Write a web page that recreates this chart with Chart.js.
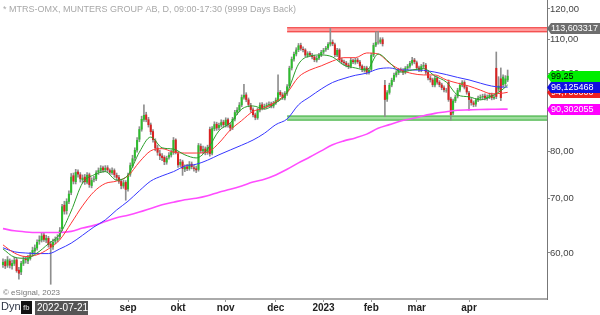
<!DOCTYPE html>
<html>
<head>
<meta charset="utf-8">
<script src="https://cdn.jsdelivr.net/npm/chart.js@4.4.0/dist/chart.umd.min.js"></script>
<style>
  html, body { margin: 0; padding: 0; background: #fff; }
  #wrap { width: 600px; height: 315px; }
</style>
</head>
<body>
<div id="wrap"><canvas id="myChart" width="600" height="315"></canvas></div>
<script>
'use strict';

// Data (trading day index, 0 = 2022-09-01)

let firstDay = -55;

let openVals = [
  58.0, 58.6, 57.9, 58.7, 57.8, 58.2, 58.9, 57.2, 56.8, 58.2,
  59.0, 58.6, 59.0, 59.8, 60.3, 60.8, 62.0, 62.2, 63.2, 62.2,
  62.6, 61.6, 61.0, 62.0, 62.2, 62.8, 64.2, 68.8, 67.6, 69.4,
  71.2, 74.8, 73.4, 75.6, 75.0, 73.8, 74.5, 73.3, 75.0, 72.6,
  73.9, 74.0, 75.5, 75.8, 76.5, 75.9, 76.5, 75.9, 75.3, 75.9,
  74.9, 74.4, 73.6, 72.5, 73.4, 71.9, 75.0, 76.8, 78.6, 80.3,
  82.8, 85.2, 87.6, 88.9, 87.7, 86.4, 84.8, 82.6, 80.9, 79.6,
  79.1, 78.8, 77.6, 78.7, 79.2, 79.8, 82.8, 79.6, 77.1, 77.8,
  76.1, 76.7, 76.2, 77.3, 76.5, 76.3, 76.0, 81.3, 80.1, 80.7,
  79.8, 85.3, 79.6, 85.3, 86.6, 85.6, 86.2, 87.1, 86.2, 87.7,
  86.4, 85.6, 87.7, 89.4, 90.0, 91.3, 93.3, 94.1, 92.8, 91.3,
  90.2, 88.9, 88.0, 90.0, 91.5, 90.7, 91.0, 91.3, 91.7, 91.0,
  91.8, 92.6, 94.8, 94.1, 93.1, 94.4, 96.4, 101.4, 104.0, 105.5,
  106.8, 108.3, 107.1, 106.9, 105.1, 105.9, 105.2, 104.8, 103.7, 104.3,
  105.2, 106.1, 106.9, 107.3, 108.5, 109.3, 108.5, 105.2, 106.9, 103.9,
  103.3, 103.0, 102.4, 101.9, 103.7, 103.1, 103.9, 103.3, 102.1, 100.8,
  101.6, 100.1, 101.0, 105.2, 108.2, 109.3, 109.1, 110.1, 96.7, 92.8,
  94.6, 96.6, 98.0, 99.4, 100.1, 101.1, 100.8, 100.1, 101.4, 101.9,
  102.8, 103.9, 103.1, 101.6, 100.8, 101.9, 102.4, 100.3, 98.7, 98.2,
  96.6, 98.7, 97.5, 96.8, 96.0, 95.2, 97.5, 93.0, 89.2, 92.4,
  93.6, 95.2, 96.6, 97.5, 96.1, 94.6, 92.8, 92.0, 91.5, 92.6,
  93.1, 93.4, 93.8, 93.1, 93.4, 94.1, 93.1, 101.5, 95.5, 98.5,
  96.7, 97.0, 98.0
];

let highVals = [
  59.0, 58.9, 59.4, 59.0, 58.8, 59.3, 59.1, 57.6, 58.6, 59.4,
  59.4, 59.6, 60.1, 61.0, 61.4, 62.3, 63.0, 63.6, 63.6, 63.1,
  62.9, 62.0, 62.4, 62.8, 63.2, 64.5, 68.9, 69.5, 70.0, 71.6,
  75.2, 75.3, 76.1, 76.0, 75.4, 74.9, 75.0, 75.4, 75.3, 74.3,
  74.6, 75.8, 76.4, 76.9, 76.8, 76.9, 76.9, 76.2, 76.4, 76.2,
  75.3, 74.8, 74.0, 73.8, 73.7, 75.3, 77.5, 79.2, 80.9, 83.3,
  85.9, 88.5, 91.4, 89.5, 88.2, 86.8, 85.2, 83.0, 81.5, 80.4,
  79.6, 79.1, 79.0, 79.8, 80.4, 83.3, 83.0, 80.0, 78.3, 78.1,
  77.1, 77.2, 77.8, 77.7, 77.0, 76.8, 81.9, 81.8, 81.3, 81.1,
  81.5, 85.8, 85.9, 87.1, 87.0, 86.8, 87.6, 87.5, 88.1, 88.0,
  86.8, 88.2, 90.0, 90.7, 92.0, 94.0, 96.9, 94.6, 93.2, 91.8,
  90.6, 89.3, 90.5, 91.9, 92.0, 91.6, 91.9, 92.2, 92.1, 92.3,
  93.2, 99.5, 95.2, 94.6, 94.9, 96.8, 102.0, 104.7, 106.2, 107.5,
  108.8, 108.9, 107.8, 107.2, 106.3, 106.3, 105.8, 105.2, 104.9, 105.8,
  106.7, 107.3, 107.9, 109.1, 113.6, 109.9, 108.9, 107.3, 107.2, 104.4,
  103.8, 103.4, 102.9, 104.3, 104.1, 104.3, 104.3, 103.7, 102.4, 102.0,
  102.0, 101.4, 105.8, 108.9, 112.5, 112.6, 110.6, 110.6, 98.0, 95.2,
  97.2, 98.6, 100.0, 100.7, 101.4, 101.5, 101.3, 101.9, 102.5, 103.4,
  104.6, 104.3, 103.5, 102.0, 102.5, 103.1, 102.8, 100.7, 99.2, 98.6,
  99.1, 99.0, 97.9, 97.2, 96.5, 95.8, 98.1, 93.4, 92.9, 94.0,
  95.8, 97.2, 97.9, 97.9, 96.5, 95.0, 93.2, 92.4, 93.1, 93.7,
  94.0, 94.2, 94.3, 94.0, 94.5, 94.5, 94.0, 106.2, 99.0, 101.5,
  99.5, 99.3, 100.9
];

let lowVals = [
  57.6, 57.4, 57.6, 57.5, 57.3, 57.9, 56.8, 55.7, 56.4, 57.9,
  58.3, 58.2, 58.8, 59.5, 60.0, 60.5, 61.5, 61.9, 62.0, 61.8,
  61.0, 54.9, 60.6, 61.6, 61.9, 62.4, 63.9, 67.0, 67.0, 69.0,
  70.8, 73.0, 73.0, 74.4, 73.4, 73.2, 72.9, 73.0, 72.3, 72.2,
  73.4, 73.7, 75.0, 75.4, 75.5, 75.6, 75.5, 75.0, 75.0, 74.4,
  73.8, 73.1, 72.0, 72.1, 69.7, 71.5, 74.6, 76.5, 78.0, 79.9,
  82.3, 84.8, 87.2, 87.1, 85.8, 84.0, 82.2, 80.2, 79.2, 78.2,
  78.0, 77.1, 77.2, 78.3, 78.8, 79.4, 79.5, 76.5, 76.7, 74.8,
  75.6, 75.8, 75.9, 76.2, 75.7, 75.4, 75.7, 79.8, 79.6, 79.3,
  79.4, 79.0, 79.3, 84.9, 85.0, 85.1, 85.8, 85.8, 85.8, 85.8,
  84.9, 85.2, 87.3, 88.9, 89.6, 90.9, 92.9, 92.2, 90.9, 89.5,
  88.3, 87.6, 87.7, 89.6, 90.1, 90.3, 90.6, 90.9, 90.6, 90.6,
  91.5, 92.2, 93.6, 92.8, 92.7, 93.9, 96.0, 100.9, 103.5, 105.0,
  106.3, 106.7, 106.2, 104.8, 104.6, 104.8, 104.1, 103.3, 103.2, 103.9,
  104.8, 105.6, 106.4, 106.9, 108.0, 108.1, 104.8, 104.8, 103.3, 102.7,
  102.4, 101.8, 101.3, 101.5, 102.7, 102.6, 102.8, 101.5, 100.4, 100.3,
  99.7, 99.7, 100.6, 104.8, 107.8, 108.6, 108.7, 108.0, 88.4, 92.3,
  94.2, 96.2, 97.6, 98.9, 99.6, 100.4, 99.6, 99.8, 100.9, 101.4,
  102.3, 102.7, 101.0, 100.4, 100.4, 101.4, 99.7, 98.1, 97.5, 96.2,
  96.2, 96.9, 96.2, 95.4, 94.8, 94.7, 92.3, 87.5, 88.8, 92.0,
  93.2, 94.8, 96.2, 95.6, 94.2, 90.0, 91.3, 90.9, 91.0, 92.2,
  92.7, 92.9, 92.7, 92.6, 93.0, 92.7, 92.8, 93.0, 95.0, 92.5,
  96.2, 96.5, 97.6
];

let closeVals = [
  58.5, 57.8, 58.9, 57.9, 58.3, 58.8, 57.0, 56.6, 58.3, 58.9,
  58.8, 59.1, 59.7, 60.5, 60.9, 61.9, 62.3, 63.0, 62.3, 62.6,
  61.4, 61.0, 61.9, 62.3, 62.6, 64.0, 68.5, 67.5, 69.5, 71.0,
  74.5, 73.5, 75.5, 75.0, 74.0, 74.3, 73.4, 74.9, 72.8, 73.8,
  74.1, 75.4, 75.9, 76.4, 75.9, 76.4, 75.9, 75.4, 75.9, 74.9,
  74.3, 73.5, 72.6, 73.3, 71.8, 74.9, 77.0, 78.5, 80.4, 82.7,
  85.3, 87.8, 88.8, 87.6, 86.3, 84.6, 82.7, 80.8, 79.8, 79.0,
  78.6, 77.7, 78.6, 79.3, 79.9, 82.7, 79.9, 77.0, 77.7, 76.2,
  76.6, 76.2, 77.2, 76.6, 76.2, 75.9, 81.5, 80.2, 80.6, 79.9,
  81.0, 79.5, 85.5, 86.5, 85.5, 86.3, 87.0, 86.3, 87.6, 86.3,
  85.5, 87.8, 89.5, 90.1, 91.4, 93.4, 94.0, 92.7, 91.4, 90.1,
  88.8, 88.1, 90.1, 91.4, 90.6, 91.1, 91.4, 91.6, 91.1, 91.9,
  92.7, 94.7, 94.0, 93.2, 94.5, 96.3, 101.5, 104.1, 105.6, 106.9,
  108.2, 107.2, 106.8, 105.2, 105.8, 105.3, 104.7, 103.8, 104.4, 105.3,
  106.2, 106.8, 107.4, 108.6, 109.2, 108.6, 105.3, 106.8, 103.8, 103.2,
  102.9, 102.3, 101.8, 103.8, 103.2, 103.8, 103.2, 102.0, 100.9, 101.5,
  100.2, 100.9, 105.3, 108.3, 109.2, 109.2, 110.0, 108.6, 92.7, 94.7,
  96.7, 98.1, 99.5, 100.2, 100.9, 100.9, 100.2, 101.5, 102.0, 102.9,
  103.8, 103.2, 101.5, 100.9, 102.0, 102.3, 100.2, 98.6, 98.1, 96.7,
  98.6, 97.4, 96.7, 95.9, 95.3, 95.3, 92.7, 88.8, 92.5, 93.5,
  95.3, 96.7, 97.4, 96.0, 94.7, 92.7, 91.9, 91.4, 92.7, 93.2,
  93.5, 93.7, 93.2, 93.5, 94.0, 93.2, 93.5, 93.5, 96.5, 93.2,
  99.0, 98.5, 99.25
];

// moving averages, read every 5th trading day
let maDays = [
  -55, -50, -45, -40, -35, -30, -25, -20, -15, -10,
  -5, 0, 5, 10, 15, 20, 25, 30, 35, 40,
  45, 50, 55, 60, 65, 70, 75, 80, 85, 90,
  95, 100, 105, 110, 115, 120, 125, 130, 135, 140,
  145, 150, 155, 160, 165, 167
];
let maShort = [
  60.7, 59.3, 59.1, 60.0, 61.6, 63.3, 67.6, 73.2, 74.9, 75.6,
  73.8, 74.9, 79.9, 83.4, 80.9, 80.6, 79.3, 78.6, 80.6, 84.9,
  86.8, 90.3, 91.1, 90.3, 91.9, 94.7, 102.6, 105.0, 105.3, 104.7,
  102.3, 101.5, 100.9, 105.6, 103.1, 100.3, 100.9, 101.3, 99.2, 97.5,
  94.0, 93.5, 92.7, 93.7, 95.6, 96.7
];
let maMid = [
  61.4, 60.0, 59.4, 59.7, 60.7, 62.3, 65.3, 68.6, 71.4, 73.1,
  73.6, 74.7, 77.7, 80.2, 80.7, 79.9, 79.7, 79.7, 79.9, 82.0,
  85.1, 87.4, 89.7, 90.6, 92.2, 94.6, 98.9, 100.9, 102.1, 103.5,
  104.5, 104.5, 105.9, 105.6, 102.9, 100.9, 99.9, 99.5, 99.5, 98.1,
  97.2, 96.4, 95.3, 94.3, 94.5, 94.7
];
let maLong = [
  60.9, 60.2, 60.0, 59.9, 59.9, 60.7, 61.7, 63.1, 64.6, 65.9,
  67.8, 69.5, 71.6, 73.6, 74.7, 75.6, 76.8, 77.2, 78.1, 79.3,
  80.4, 81.5, 82.7, 84.3, 86.4, 87.8, 91.4, 93.5, 95.6, 97.4,
  98.5, 99.4, 100.0, 101.2, 101.5, 100.9, 100.9, 100.8, 100.3, 99.6,
  98.8, 98.1, 97.2, 96.4, 96.1, 96.125468
];
let ma200 = [
  64.3, 63.9, 63.7, 63.6, 63.6, 63.6, 63.8, 64.4, 64.9, 65.6,
  66.3, 66.8, 67.4, 68.1, 68.8, 69.3, 69.8, 70.1, 70.6, 71.3,
  71.9, 72.6, 73.4, 74.0, 74.9, 76.1, 77.5, 78.8, 80.2, 81.6,
  82.5, 83.2, 84.1, 85.5, 86.4, 87.3, 87.9, 88.6, 89.2, 89.6,
  90.0, 90.1, 90.2, 90.25, 90.3, 90.302055
];

// axis ticks
let monthDays = [0, 22, 43, 65, 86, 107, 127, 150];
let monthLabels = ['sep', 'okt', 'nov', 'dec', '2023', 'feb', 'mar', 'apr'];
let priceTicks = [60, 70, 80, 90, 100, 110, 120];

// horizontal levels (support / resistance), from day 70
let levelValues = [113.603317, 88.4];
let levelStart = [70, 70];

// price tags on the right axis, drawn in this order
let tagValues = [94.7, 96.125468, 99.25, 90.302055, 113.603317];
let tagDigits = [6, 6, 2, 6, 6];

// Styles
let upColor = '#2dbd2d';
let downColor = '#d92222';
let wickColor = '#8e8e8e';
let levelFill = ['#ff9c9c', '#9fdc9f'];
let levelLine = ['#f03a3a', '#3fb03f'];
let tagBg = ['#ee2020', '#1010e0', '#00ee00', '#ff00ff', '#6e6e6e'];
let tagFg = ['#fff', '#fff', '#000', '#fff', '#fff'];

// build chart points
let bodies = [];
let wicks = [];
for (let i = 0; i < closeVals.length; i++) {
  bodies.push({ x: firstDay + i, y: [openVals[i], closeVals[i]] });
  wicks.push({ x: firstDay + i, y: [lowVals[i], highVals[i]] });
}

function maPoints(vals) {
  let pts = [];
  for (let i = 0; i < maDays.length; i++) {
    pts.push({ x: maDays[i], y: vals[i] });
  }
  return pts;
}

function fmt(v, d) {
  return v.toFixed(d).replace('.', ',');
}

let font = 'Liberation Sans, Arial, sans-serif';

const overlayPlugin = {
  id: 'overlay',
  beforeDatasetsDraw(chart) {
    const { ctx, chartArea, scales } = chart;
    ctx.save();
    for (let i = 0; i < levelValues.length; i++) {
      let py = scales.y.getPixelForValue(levelValues[i]);
      let px = scales.x.getPixelForValue(levelStart[i]);
      let w = chartArea.right - px;
      ctx.fillStyle = levelFill[i];
      ctx.fillRect(px, py - 1, w, 5);
      ctx.strokeStyle = levelLine[i];
      ctx.lineWidth = 1;
      ctx.beginPath();
      ctx.moveTo(px, py - 0.5);
      ctx.lineTo(chartArea.right, py - 0.5);
      ctx.moveTo(px, py + 3.5);
      ctx.lineTo(chartArea.right, py + 3.5);
      ctx.stroke();
    }
    ctx.restore();
  },
  afterDraw(chart) {
    const { ctx, chartArea, scales } = chart;
    ctx.save();

    // header
    ctx.font = '9px ' + font;
    ctx.fillStyle = '#a8a8a8';
    ctx.textBaseline = 'middle';
    ctx.textAlign = 'left';
    ctx.fillText('* MTRS-OMX, MUNTERS GROUP AB, D, 09:00-17:30 (9999 Days Back)', 3, 10);

    // copyright
    ctx.font = '8px ' + font;
    ctx.fillStyle = '#777';
    ctx.fillText('\u00a9 eSignal, 2023', 3, 293);

    // bottom left
    ctx.font = '11px ' + font;
    ctx.fillStyle = '#2c3344';
    ctx.fillText('Dyn', 1, 307);
    ctx.fillStyle = '#111';
    ctx.fillRect(21, 301, 11, 13);
    ctx.font = 'bold 7px ' + font;
    ctx.fillStyle = '#bbb';
    ctx.fillText('fb', 23, 308);
    ctx.fillStyle = '#555';
    ctx.fillRect(35, 301, 53, 14);
    ctx.font = '10px ' + font;
    ctx.fillStyle = '#fff';
    ctx.fillText('2022-07-21', 37, 308.5);

    // price tags
    let x0 = chartArea.right;
    ctx.font = '9px ' + font;
    for (let i = 0; i < tagValues.length; i++) {
      let yc = Math.round(scales.y.getPixelForValue(tagValues[i])) + 0.5;
      ctx.fillStyle = tagBg[i];
      ctx.beginPath();
      ctx.moveTo(x0, yc);
      ctx.lineTo(x0 + 4, yc - 5.5);
      ctx.lineTo(600, yc - 5.5);
      ctx.lineTo(600, yc + 5.5);
      ctx.lineTo(x0 + 4, yc + 5.5);
      ctx.closePath();
      ctx.fill();
      ctx.fillStyle = tagFg[i];
      ctx.fillText(fmt(tagValues[i], tagDigits[i]), x0 + 4, yc + 0.5);
    }
    ctx.restore();
  }
};

let ctx = document.getElementById('myChart').getContext('2d');
const myChart = new Chart(ctx, {
  type: 'bar',
  data: {
    datasets: [
      {
        type: 'line', data: maPoints(maShort), borderColor: '#2a9e2a',
        borderWidth: 1, pointRadius: 0, cubicInterpolationMode: 'monotone', order: 0
      },
      {
        type: 'line', data: maPoints(maMid), borderColor: '#ff3535',
        borderWidth: 1, pointRadius: 0, cubicInterpolationMode: 'monotone', order: 0
      },
      {
        type: 'line', data: maPoints(maLong), borderColor: '#3636ff',
        borderWidth: 1, pointRadius: 0, cubicInterpolationMode: 'monotone', order: 0
      },
      {
        type: 'line', data: maPoints(ma200), borderColor: '#ff4cff',
        borderWidth: 1.6, pointRadius: 0, cubicInterpolationMode: 'monotone', order: 0
      },
      {
        data: bodies,
        backgroundColor: (c) => {
          let i = c.dataIndex;
          return closeVals[i] >= openVals[i] ? upColor : downColor;
        },
        barPercentage: 1,
        categoryPercentage: 0.9,
        grouped: false,
        borderWidth: 0,
        order: 1
      },
      {
        data: wicks,
        backgroundColor: wickColor,
        barThickness: 1,
        grouped: false,
        borderWidth: 0,
        order: 2
      }
    ]
  },
  options: {
    responsive: false,
    animation: false,
    devicePixelRatio: 1,
    layout: { padding: 0 },
    plugins: {
      legend: { display: false },
      tooltip: { enabled: false }
    },
    scales: {
      x: {
        type: 'linear',
        min: -56.31,
        max: 184.31,
        offset: false,
        afterBuildTicks: (s) => { s.ticks = monthDays.map(v => ({ value: v })); },
        afterFit: (s) => { s.height = 16; s.paddingLeft = 0; s.paddingRight = 0; },
        grid: { drawOnChartArea: false, offset: false, tickLength: 3, color: '#999' },
        border: { color: '#aaa', width: 2 },
        ticks: {
          autoSkip: false,
          maxRotation: 0,
          padding: 0,
          color: '#222',
          font: { family: font, size: 10, weight: 'bold' },
          callback: (v, i) => monthLabels[i]
        }
      },
      y: {
        type: 'logarithmic',
        position: 'right',
        min: 52.65,
        max: 123.1,
        bounds: 'data',
        afterBuildTicks: (s) => { s.ticks = priceTicks.map(v => ({ value: v })); },
        afterFit: (s) => { s.width = 53; s.paddingTop = 0; s.paddingBottom = 0; },
        grid: { drawOnChartArea: false, tickLength: 3, color: '#888' },
        border: { color: '#777', width: 1 },
        ticks: {
          autoSkip: false,
          padding: 0,
          color: '#444',
          font: { family: font, size: 9.5 },
          callback: (v) => fmt(v, 2)
        }
      }
    }
  },
  plugins: [overlayPlugin]
});
</script>
</body>
</html>
